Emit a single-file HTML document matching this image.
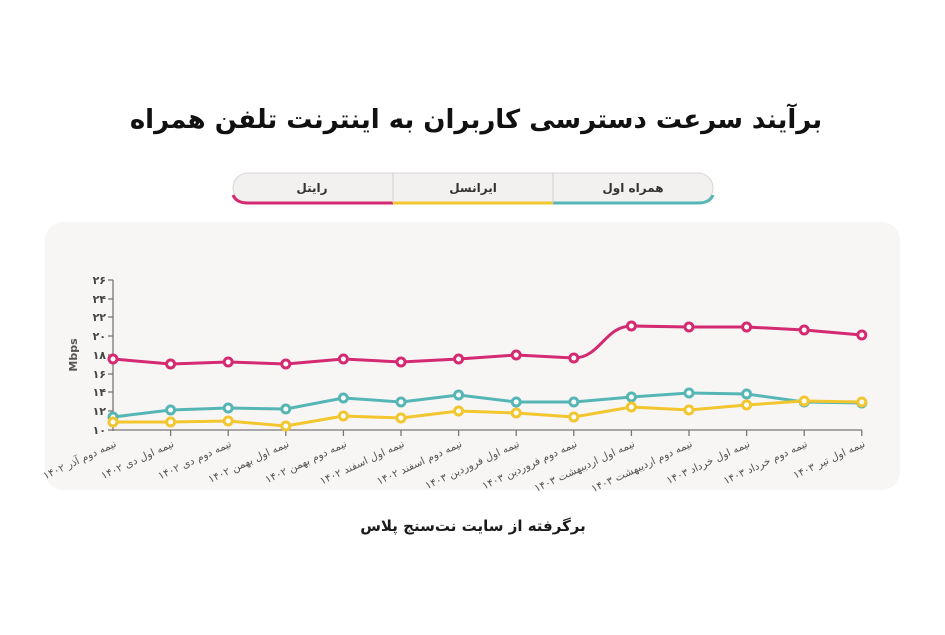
<!DOCTYPE html>
<html><head><meta charset="utf-8">
<style>
body{margin:0;width:945px;height:631px;background:#fff;overflow:hidden;font-family:"DejaVu Sans","Liberation Sans",sans-serif}
</style></head><body>
<svg width="945" height="631" xmlns="http://www.w3.org/2000/svg" font-family="DejaVu Sans, Liberation Sans, sans-serif">
<text x="476" y="128" text-anchor="middle" font-size="26" font-weight="bold" fill="#111" direction="rtl">برآیند سرعت دسترسی کاربران به اینترنت تلفن همراه</text>
<!-- legend -->
<rect x="233" y="173" width="480" height="30" rx="15" fill="#f3f1ef" stroke="#d8d6d4"/>
<path d="M233,195 Q236,203 248,203 L393,203" stroke="#d42a72" stroke-width="3" fill="none"/>
<line x1="393" y1="203" x2="553" y2="203" stroke="#f2c62f" stroke-width="3"/>
<path d="M553,203 L698,203 Q710,203 713,195" stroke="#56b6b6" stroke-width="3" fill="none"/>
<line x1="393" y1="173" x2="393" y2="203" stroke="#d0cecc"/>
<line x1="553" y1="173" x2="553" y2="203" stroke="#d0cecc"/>
<text x="312" y="192" text-anchor="middle" font-size="12" font-weight="bold" fill="#333" direction="rtl">رایتل</text>
<text x="473" y="192" text-anchor="middle" font-size="12" font-weight="bold" fill="#333" direction="rtl">ایرانسل</text>
<text x="633" y="192" text-anchor="middle" font-size="12" font-weight="bold" fill="#333" direction="rtl">همراه اول</text>
<!-- card -->
<rect x="45" y="222" width="855" height="268" rx="18" fill="#f8f6f5"/>
<!-- axes -->
<g stroke="#777" stroke-width="1.3">
<line x1="113" y1="280" x2="113" y2="431"/>
<line x1="113" y1="430" x2="862" y2="430"/>
<line x1="108" y1="280" x2="113" y2="280"/><line x1="108" y1="299" x2="113" y2="299"/>
<line x1="108" y1="317" x2="113" y2="317"/><line x1="108" y1="336" x2="113" y2="336"/>
<line x1="108" y1="355" x2="113" y2="355"/><line x1="108" y1="374" x2="113" y2="374"/>
<line x1="108" y1="392" x2="113" y2="392"/><line x1="108" y1="411" x2="113" y2="411"/>
<line x1="108" y1="430" x2="113" y2="430"/>
</g>
<g font-size="11" font-weight="bold" fill="#444" text-anchor="end">
<text x="106" y="284">۲۶</text><text x="106" y="303">۲۴</text><text x="106" y="321">۲۲</text>
<text x="106" y="340">۲۰</text><text x="106" y="359">۱۸</text><text x="106" y="378">۱۶</text>
<text x="106" y="396">۱۴</text><text x="106" y="415">۱۲</text><text x="106" y="434">۱۰</text>
</g>
<text transform="translate(77,355) rotate(-90)" text-anchor="middle" font-size="11" font-weight="bold" fill="#555">Mbps</text>
<g stroke="#777" stroke-width="1.3">
<line x1="170.6" y1="430" x2="170.6" y2="436"/><line x1="228.2" y1="430" x2="228.2" y2="436"/>
<line x1="285.8" y1="430" x2="285.8" y2="436"/><line x1="343.4" y1="430" x2="343.4" y2="436"/>
<line x1="401" y1="430" x2="401" y2="436"/><line x1="458.6" y1="430" x2="458.6" y2="436"/>
<line x1="516.2" y1="430" x2="516.2" y2="436"/><line x1="573.8" y1="430" x2="573.8" y2="436"/>
<line x1="631.4" y1="430" x2="631.4" y2="436"/><line x1="689" y1="430" x2="689" y2="436"/>
<line x1="746.6" y1="430" x2="746.6" y2="436"/><line x1="804.2" y1="430" x2="804.2" y2="436"/>
<line x1="861.8" y1="430" x2="861.8" y2="436"/>
</g>
<g font-size="10.5" fill="#555" text-anchor="start" direction="rtl">
<text transform="translate(117,446) rotate(-25)">نیمه دوم آذر ۱۴۰۲</text>
<text transform="translate(174.6,446) rotate(-25)">نیمه اول دی ۱۴۰۲</text>
<text transform="translate(232.2,446) rotate(-25)">نیمه دوم دی ۱۴۰۲</text>
<text transform="translate(289.8,446) rotate(-25)">نیمه اول بهمن ۱۴۰۲</text>
<text transform="translate(347.4,446) rotate(-25)">نیمه دوم بهمن ۱۴۰۲</text>
<text transform="translate(405,446) rotate(-25)">نیمه اول اسفند ۱۴۰۲</text>
<text transform="translate(462.6,446) rotate(-25)">نیمه دوم اسفند ۱۴۰۲</text>
<text transform="translate(520.2,446) rotate(-25)">نیمه اول فروردین ۱۴۰۳</text>
<text transform="translate(577.8,446) rotate(-25)">نیمه دوم فروردین ۱۴۰۳</text>
<text transform="translate(635.4,446) rotate(-25)">نیمه اول اردیبهشت ۱۴۰۳</text>
<text transform="translate(693,446) rotate(-25)">نیمه دوم اردیبهشت ۱۴۰۳</text>
<text transform="translate(750.6,446) rotate(-25)">نیمه اول خرداد ۱۴۰۳</text>
<text transform="translate(808.2,446) rotate(-25)">نیمه دوم خرداد ۱۴۰۳</text>
<text transform="translate(865.8,446) rotate(-25)">نیمه اول تیر ۱۴۰۳</text>
</g>
<!-- series -->
<g fill="none" stroke-width="3" stroke-linejoin="round" stroke-linecap="round">
<polyline stroke="#56b6b6" points="113,417 170.6,410 228.2,408 285.8,409 343.4,398 401,402 458.6,395 516.2,402 573.8,402 631.4,397 689,393 746.6,394 804.2,402 861.8,403"/>
<polyline stroke="#f2c62f" points="113,422 170.6,422 228.2,421 285.8,426 343.4,416 401,418 458.6,411 516.2,413 573.8,417 631.4,407 689,410 746.6,405 804.2,401 861.8,402"/>
<path stroke="#d42a72" d="M113,359 L170.6,364 L228.2,362 L285.8,364 L343.4,359 L401,362 L458.6,359 L516.2,355 L573.8,358 C600,358 605,326 631.4,326 L689,327 L746.6,327 L804.2,330 L861.8,335"/>
</g>
<g stroke-width="3" fill="#fff">
<g stroke="#56b6b6"><circle cx="113" cy="417" r="4"/><circle cx="170.6" cy="410" r="4"/><circle cx="228.2" cy="408" r="4"/><circle cx="285.8" cy="409" r="4"/><circle cx="343.4" cy="398" r="4"/><circle cx="401" cy="402" r="4"/><circle cx="458.6" cy="395" r="4"/><circle cx="516.2" cy="402" r="4"/><circle cx="573.8" cy="402" r="4"/><circle cx="631.4" cy="397" r="4"/><circle cx="689" cy="393" r="4"/><circle cx="746.6" cy="394" r="4"/><circle cx="804.2" cy="402" r="4"/><circle cx="861.8" cy="403" r="4"/></g>
<g stroke="#f2c62f"><circle cx="113" cy="422" r="4"/><circle cx="170.6" cy="422" r="4"/><circle cx="228.2" cy="421" r="4"/><circle cx="285.8" cy="426" r="4"/><circle cx="343.4" cy="416" r="4"/><circle cx="401" cy="418" r="4"/><circle cx="458.6" cy="411" r="4"/><circle cx="516.2" cy="413" r="4"/><circle cx="573.8" cy="417" r="4"/><circle cx="631.4" cy="407" r="4"/><circle cx="689" cy="410" r="4"/><circle cx="746.6" cy="405" r="4"/><circle cx="804.2" cy="401" r="4"/><circle cx="861.8" cy="402" r="4"/></g>
<g stroke="#d42a72"><circle cx="113" cy="359" r="4"/><circle cx="170.6" cy="364" r="4"/><circle cx="228.2" cy="362" r="4"/><circle cx="285.8" cy="364" r="4"/><circle cx="343.4" cy="359" r="4"/><circle cx="401" cy="362" r="4"/><circle cx="458.6" cy="359" r="4"/><circle cx="516.2" cy="355" r="4"/><circle cx="573.8" cy="358" r="4"/><circle cx="631.4" cy="326" r="4"/><circle cx="689" cy="327" r="4"/><circle cx="746.6" cy="327" r="4"/><circle cx="804.2" cy="330" r="4"/><circle cx="861.8" cy="335" r="4"/></g>
</g>
<text x="473" y="531" text-anchor="middle" font-size="15" font-weight="bold" fill="#1a1a1a" direction="rtl">برگرفته از سایت نت‌سنج پلاس</text>
</svg>
</body></html>
